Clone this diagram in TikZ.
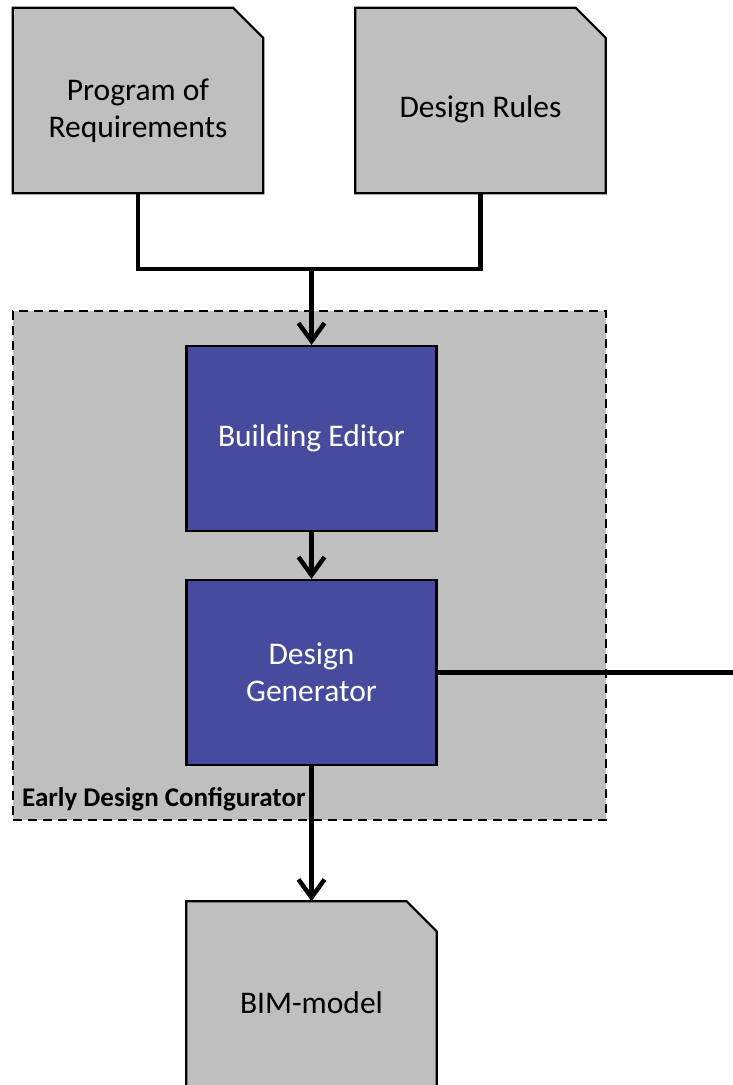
\documentclass[tikz,border=0pt]{standalone}
\usepackage{fontspec}
\setmainfont{Carlito}
\usetikzlibrary{arrows.meta}
\definecolor{boxgray}{RGB}{191,191,191}
\definecolor{toolblue}{RGB}{71,75,157}

\begin{document}
\begin{tikzpicture}[x=1pt,y=-1pt,
  every node/.style = {align=center, inner sep=0pt,
    font=\fontsize{31.5}{37.5}\selectfont}]
    \tikzstyle{doc}=[rectangle, minimum width=250pt, minimum height=185pt]
    \tikzstyle{docline}=[draw, line width=2.2pt, fill=boxgray, line join=miter]
    \tikzstyle{tool}=[rectangle, draw, line width=2.2pt, fill=toolblue, text=white,
      minimum width=250pt, minimum height=185pt]
    \tikzstyle{group}=[rectangle, draw, dashed, dash pattern=on 9pt off 6pt,
      line width=2pt, fill=boxgray, minimum width=593pt, minimum height=509pt]
    \tikzstyle{link}=[line width=4.5pt]
    \tikzstyle{arrow}=[link, -{Straight Barb[length=18pt,width=26pt,line width=4.5pt]}]
  \useasboundingbox (0,0) rectangle (733,1085);
  \clip (0,0) rectangle (733,1085);
  \node[group] (edc) at (309.5,565.5) {};
  \node[anchor=base west, font=\fontsize{27}{30}\selectfont\bfseries] (edclabel) at (22,806) {Early Design Configurator};
  \node[doc] (prog) at (138,100.5) {};
  \node[doc] (rules) at (480.5,100.5) {};
  \node[doc] (bim) at (311.5,994) {};
  \foreach \d in {prog, rules, bim}
    \path[docline] (\d.south west) |- ([xshift=-30pt]\d.north east)
      -- ([yshift=-30pt]\d.north east) |- cycle;
  \node (progtext) at ([yshift=-10pt]prog.center) {Program of\\Requirements};
  \node (rulestext) at ([yshift=-9pt]rules.center) {Design Rules};
  \node (bimtext) at ([yshift=-9pt]bim.center) {BIM-model};
  \node[tool] (editor) at (311.5,438.5) {Building Editor};
  \node[tool] (generator) at (311.5,672.5) {Design\\Generator};
  \coordinate (join) at (editor.north |- 0,269);
  \coordinate (exit) at (733,0 |- generator.east);
  \draw[link] (prog.south) |- (join) -| (rules.south);
  \draw[arrow] (join) -- (editor.north);
  \draw[arrow] (editor.south) -- (generator.north);
  \draw[arrow] (generator.south) -- (bim.north);
  \draw[link] (generator.east) -- (exit);
\end{tikzpicture}
\end{document}
